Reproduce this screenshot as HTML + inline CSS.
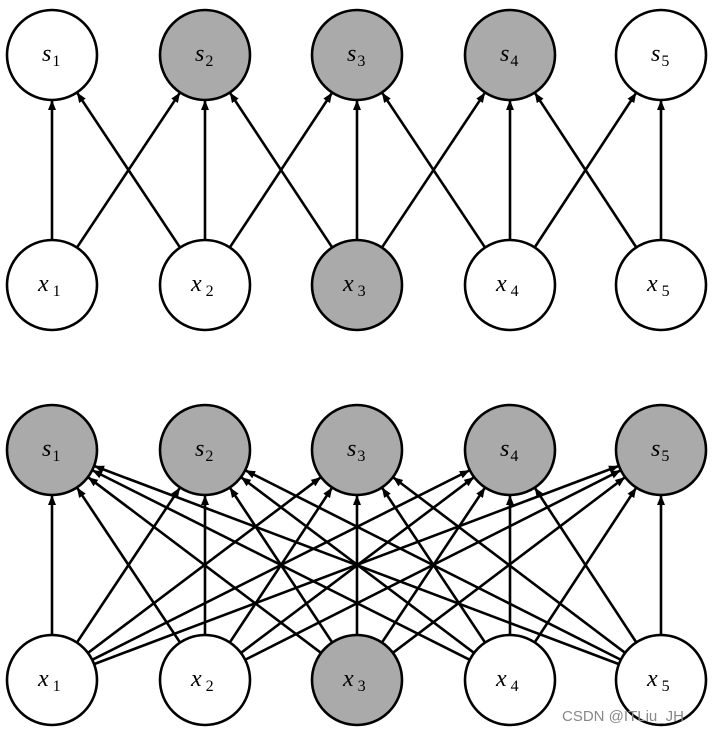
<!DOCTYPE html>
<html><head><meta charset="utf-8"><style>
html,body{margin:0;padding:0;background:#fff;}
svg{display:block}
.l{font-family:"Liberation Serif",serif;font-style:italic;font-size:24px;}
.sub{font-style:normal;font-size:16px;}
</style></head><body>
<svg id="s" width="719" height="733" xmlns="http://www.w3.org/2000/svg">
<defs><marker id="a" markerWidth="10" markerHeight="10" refX="9" refY="5" orient="auto" markerUnits="userSpaceOnUse"><path d="M0,1 L10,5 L0,9 Z" fill="#000"/></marker></defs>
<g id="e" stroke="#000" stroke-width="2.6" fill="none"></g>
<g id="n"></g>
<text x="562" y="721" font-family="Liberation Sans,sans-serif" font-size="15" fill="#888">CSDN @ITLiu_JH</text>
</svg>
<script>
var X=[52,205,357,510,661],R=45,ns="http://www.w3.org/2000/svg";
var e=document.getElementById('e'),n=document.getElementById('n');
function line(x1,y1,x2,y2){var dx=x2-x1,dy=y2-y1,d=Math.hypot(dx,dy),ux=dx/d,uy=dy/d;
var l=document.createElementNS(ns,'line');l.setAttribute('x1',x1+ux*R);l.setAttribute('y1',y1+uy*R);
l.setAttribute('x2',x2-ux*(R+1));l.setAttribute('y2',y2-uy*(R+1));l.setAttribute('marker-end','url(#a)');e.appendChild(l);}
function node(x,y,g,t,i){var c=document.createElementNS(ns,'circle');c.setAttribute('cx',x);c.setAttribute('cy',y);c.setAttribute('r',R);
c.setAttribute('fill',g?'#aaaaaa':'#fff');c.setAttribute('stroke','#000');c.setAttribute('stroke-width','2.6');n.appendChild(c);
var tx=document.createElementNS(ns,'text');tx.setAttribute('class','l');tx.setAttribute('x',x-(t=='x'?14:10));tx.setAttribute('y',y+6);
tx.innerHTML=t+'<tspan class="sub" dx="'+(t=='x'?4:1)+'" dy="5">'+i+'</tspan>';n.appendChild(tx);}
// top
for(var i=0;i<5;i++)for(var j=0;j<5;j++)if(Math.abs(i-j)<=1)line(X[i],285,X[j],55);
for(var i=0;i<5;i++)for(var j=0;j<5;j++)line(X[i],680,X[j],450);
for(var i=0;i<5;i++){node(X[i],55,i>=1&&i<=3,'s',i+1);node(X[i],285,i==2,'x',i+1);node(X[i],450,true,'s',i+1);node(X[i],680,i==2,'x',i+1);}
</script>
</body></html>
